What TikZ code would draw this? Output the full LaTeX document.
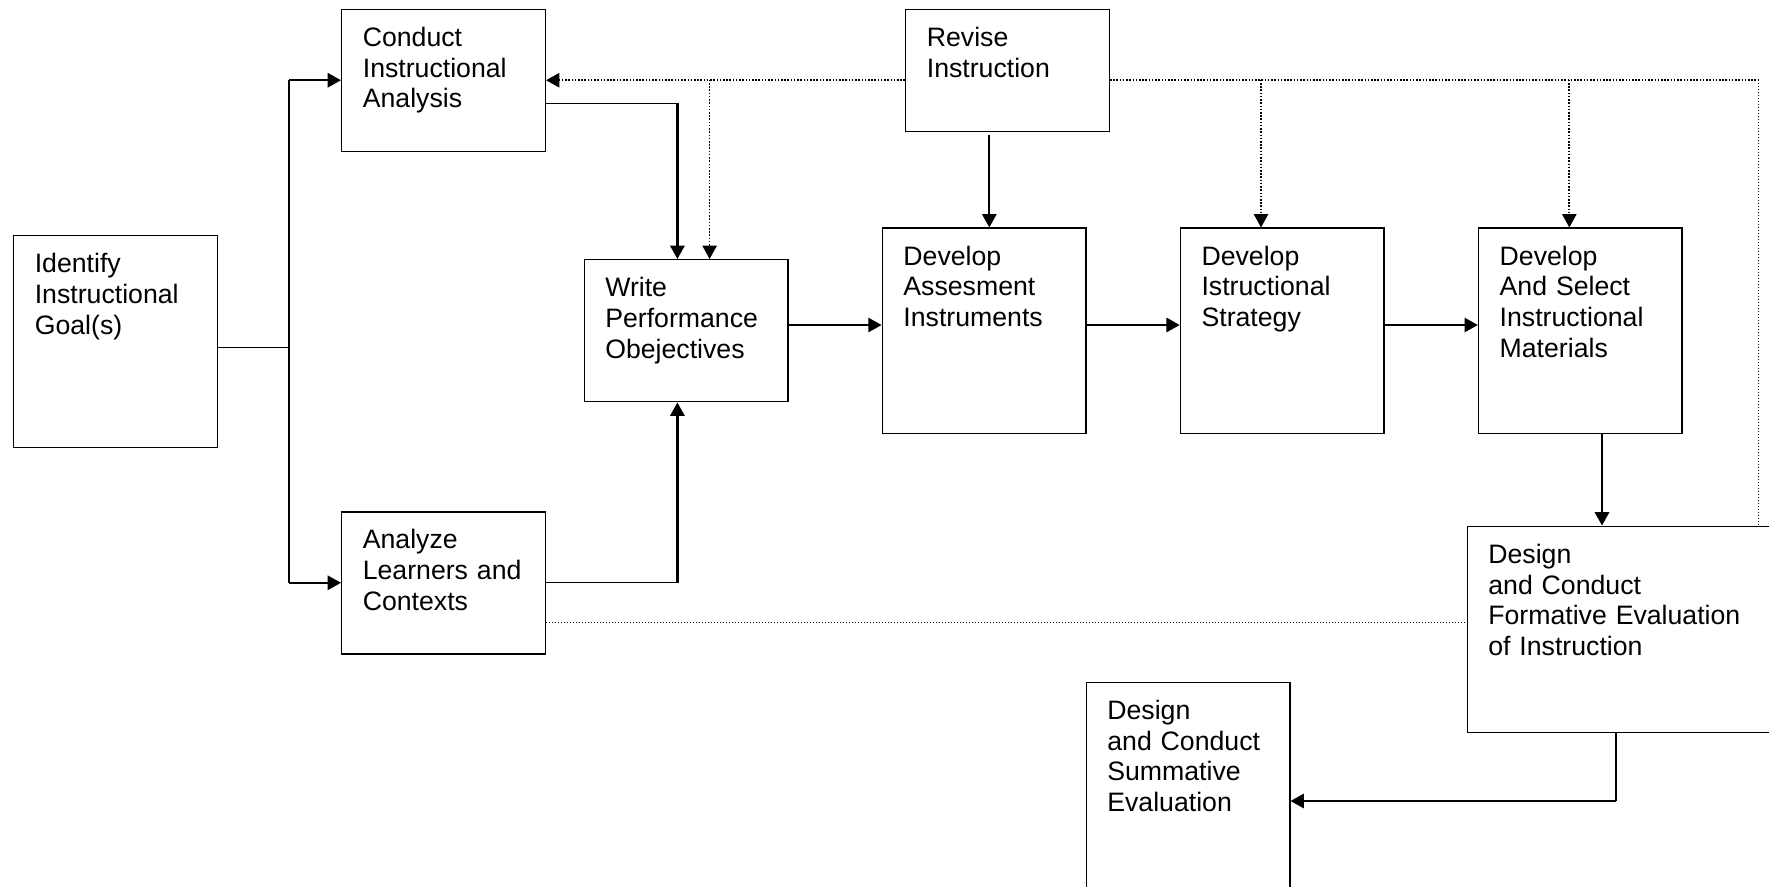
\documentclass[tikz,border=0pt]{standalone}
\usepackage{fontspec}
\setmainfont{Liberation Sans}
\usetikzlibrary{arrows.meta, positioning}
\tikzset{
  box/.style={draw, line width=0.65pt, anchor=north west, align=left,
              text width=72.6pt, text height=8.7pt, inner xsep=9.5pt, inner ysep=8pt,
              font=\fontsize{12}{13.8}\selectfont},
  arr/.style={-{Triangle[length=6pt, width=6.4pt]}, line width=1pt},
  thinln/.style={line width=0.5pt},
  dotln/.style={line width=0.8pt, dash pattern=on 0.7pt off 0.75pt},
  dotarr/.style={dotln, -{Triangle[length=6pt, width=6.4pt]}},
  thindot/.style={line width=0.45pt, dash pattern=on 0.45pt off 0.9pt},
}
\begin{document}
\begin{tikzpicture}[x=0.45pt, y=-0.45pt]
\useasboundingbox (0,0) rectangle (1769,886);
\clip (0,0) rectangle (1769,886);

% ---------- left part ----------
\node[box, text depth=70.7pt] (ident) at (13,235) {Identify\\ Instructional\\ Goal(s)};
\node[box, text depth=39.2pt] (conduct) at (341,8.5) {Conduct\\ Instructional\\ Analysis};
\node[box, text depth=39.2pt, below=161.6pt of conduct] (analyze) {Analyze\\ Learners and\\ Contexts};

% ---------- main row ----------
\node[box, text depth=39.2pt] (write) at (583.5,259) {Write\\ Performance\\ Obejectives};
\node[box, text depth=67.6pt, right=41.9pt of write] (assess) {Develop\\ Assesment\\ Instruments};
\node[box, text depth=67.6pt, right=41.9pt of assess] (strategy) {Develop\\ Istructional\\ Strategy};
\node[box, text depth=67.6pt, right=41.9pt of strategy] (materials) {Develop\\ And Select\\ Instructional\\ Materials};

\node[box, text depth=30.2pt] (revise) at (905,8.5) {Revise\\ Instruction};

% ---------- evaluation ----------
\node[box, text depth=68pt, text width=125pt] (formative) at (1466.5,525.5)
  {Design\\ and Conduct\\ Formative Evaluation\\ of Instruction};
\node[box, text depth=70.7pt] (summative) at (1085.5,681.5)
  {Design\\ and Conduct\\ Summative\\ Evaluation};

\coordinate (split) at (289,347.7);
\coordinate (ca) at (677.4,103.3);
\coordinate (la) at (677.4,582.7);
\coordinate (row) at (0,325);
\coordinate (rv) at (989.3,135);
\coordinate (mf) at (1602,480);
\coordinate (fs) at (1616,801);
\coordinate (dl) at (709.6,79.75);
\coordinate (ds) at (1261,79.75);
\coordinate (dm) at (1569.3,79.75);
\coordinate (dr) at (1758,79.75);
\coordinate (fa) at (0,622.7);

% solid connectors
\draw[thinln] (ident.east |- split) -- (split);
\draw[thinln] (split |- conduct) -- (split |- analyze);
\draw[arr] (split |- conduct) -- (conduct);
\draw[arr] (split |- analyze) -- (analyze);
\draw[thinln] (conduct.east |- ca) -- (ca);
\draw[arr] (ca) -- (ca |- write.north);
\draw[thinln] (analyze.east |- la) -- (la);
\draw[arr] (la) -- (la |- write.south);
\draw[arr] (write.east |- row) -- (assess.west |- row);
\draw[arr] (assess.east |- row) -- (strategy.west |- row);
\draw[arr] (strategy.east |- row) -- (materials.west |- row);
\draw[arr] (rv) -- (rv |- assess.north);
\draw[arr] (mf |- materials.south) -- (mf |- formative.north);
\draw[thinln] (fs |- formative.south) -- (fs);
\draw[arr] (fs) -- (fs -| summative.east);

% dotted feedback
\draw[dotarr] (revise.west |- conduct) -- (conduct.east);
\draw[dotarr] (dl) -- (dl |- write.north);
\draw[dotln] (revise.east |- dr) -- (dr);
\draw[thindot] (dr) -- (dr |- formative.north);
\draw[dotarr] (ds) -- (ds |- strategy.north);
\draw[dotarr] (dm) -- (dm |- materials.north);
\draw[thindot] (analyze.east |- fa) -- (fa -| formative.west);

\end{tikzpicture}
\end{document}
